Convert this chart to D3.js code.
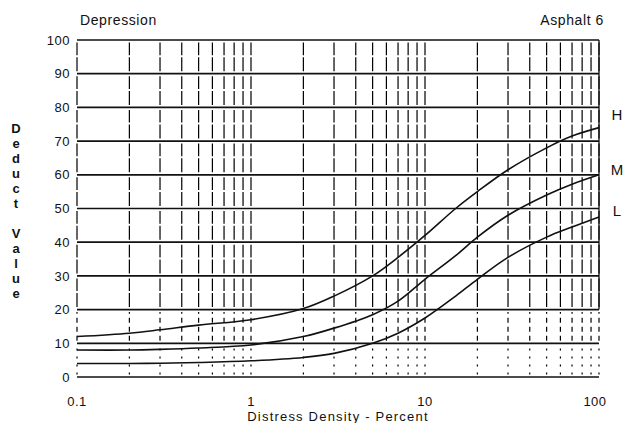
<!DOCTYPE html>
<html>
<head>
<meta charset="utf-8">
<script src="https://cdn.jsdelivr.net/npm/d3@7"></script>
<style>
  body { margin: 0; background: #fff; }
  svg text { font-family: "Liberation Sans", Arial, sans-serif; fill: #111; }
</style>
</head>
<body>
<svg id="chart" width="634" height="423"></svg>
<script>
// valores (densidad en %, valor deducido)
const density = [0.1, 0.2, 0.3, 0.5, 1, 2, 3, 5, 7, 10, 15, 20, 30, 50, 70, 100];
const highVals = [12, 13, 14, 15.4, 17, 20.3, 24, 30, 35.5, 42, 50, 55, 61.5, 68, 71.5, 74];
const medVals = [8, 8, 8.2, 8.6, 9.5, 12, 14.5, 18.5, 22.5, 29, 36, 41.5, 48, 54, 57.2, 60];
const lowVals = [4, 4, 4.1, 4.3, 4.8, 5.8, 7, 10, 13, 17.5, 24, 29, 35.5, 41.5, 44.5, 47.5];
const severity = ["H", "M", "L"];
const yTicks = [0, 10, 20, 30, 40, 50, 60, 70, 80, 90, 100];
const xTicks = [0.1, 1, 10, 100];

const svg = d3.select("#chart");

const x = d3.scaleLog().domain([0.1, 100]).range([77, 599]);
const y = d3.scaleLinear().domain([0, 100]).range([377, 40]);

// lineas verticales del papel logaritmico
let minor = [];
[0.1, 1, 10].forEach(dec => {
    for (let i = 1; i <= 9; i++) minor.push(+(dec * i).toPrecision(3));
});
minor.push(100);

const vgrid = svg.append("g");
minor.forEach(t => {
    for (let k = 0; k < 10; k++) {
        let seg = vgrid.append("line")
            .attr("x1", x(t)).attr("x2", x(t))
            .attr("y1", y(k * 10) - 2.5)
            .attr("y2", y(k * 10 + 10) + 2.5)
            .attr("stroke", "#000")
            .attr("stroke-width", 1.2);
        if (k === 0) seg.attr("stroke-dasharray", "2,6");
        else if (k === 1) seg.attr("stroke-dasharray", "5,4");
        else seg.attr("stroke-dasharray", "14,2");
    }
});

// borde derecho
svg.append("line")
    .attr("x1", x(100)).attr("x2", x(100))
    .attr("y1", y(100)).attr("y2", y(20))
    .attr("stroke", "#111").attr("stroke-width", 1.3);

// lineas horizontales
svg.append("g").selectAll("line")
    .data(yTicks)
    .enter()
    .append("line")
    .attr("x1", x(0.1))
    .attr("x2", x(100))
    .attr("y1", d => y(d))
    .attr("y2", d => y(d))
    .attr("stroke", "#111")
    .attr("stroke-width", 1.7);

// etiquetas del eje y
svg.append("g").selectAll("text")
    .data(yTicks)
    .enter()
    .append("text")
    .attr("x", 70)
    .attr("y", d => y(d))
    .attr("dy", "0.36em")
    .attr("text-anchor", "end")
    .attr("font-size", 13)
    .attr("letter-spacing", 0.5)
    .text(d => d);

// etiquetas del eje x
svg.append("g").selectAll("text")
    .data(xTicks)
    .enter()
    .append("text")
    .attr("x", d => x(d) - (d === 100 ? 4 : 0))
    .attr("y", 406)
    .attr("text-anchor", "middle")
    .attr("font-size", 13)
    .attr("letter-spacing", 0.5)
    .text(d => d);

// curvas
const line = d3.line()
    .x(d => x(d[0]))
    .y(d => y(d[1]))
    .curve(d3.curveCatmullRom.alpha(0.5));

[highVals, medVals, lowVals].forEach(vals => {
    svg.append("path")
        .datum(density.map((d, i) => [d, vals[i]]))
        .attr("d", line)
        .attr("fill", "none")
        .attr("stroke", "#111")
        .attr("stroke-width", 1.6);
});

// letras de severidad
const sevY = [115, 170, 211];
svg.append("g").selectAll("text")
    .data(severity)
    .enter()
    .append("text")
    .attr("x", 617)
    .attr("y", (d, i) => sevY[i])
    .attr("dy", "0.36em")
    .attr("text-anchor", "middle")
    .attr("font-size", 15)
    .text(d => d);

// titulos
svg.append("text")
    .attr("x", 80).attr("y", 25)
    .attr("font-size", 14)
    .attr("letter-spacing", 0.6)
    .text("Depression");

svg.append("text")
    .attr("x", 604).attr("y", 25)
    .attr("text-anchor", "end")
    .attr("font-size", 14)
    .attr("letter-spacing", 0.6)
    .text("Asphalt 6");

svg.append("text")
    .attr("x", 338).attr("y", 421)
    .attr("text-anchor", "middle")
    .attr("font-size", 13)
    .attr("letter-spacing", 1.2)
    .text("Distress Density - Percent");

// titulo vertical, letra por letra
const yLetters = "Deduct Value".split("");
svg.append("g").selectAll("text")
    .data(yLetters)
    .enter()
    .append("text")
    .attr("x", 16)
    .attr("y", (d, i) => 128 + i * 15)
    .attr("dy", "0.36em")
    .attr("text-anchor", "middle")
    .attr("font-size", 13)
    .attr("font-weight", "bold")
    .text(d => d);
</script>
</body>
</html>
